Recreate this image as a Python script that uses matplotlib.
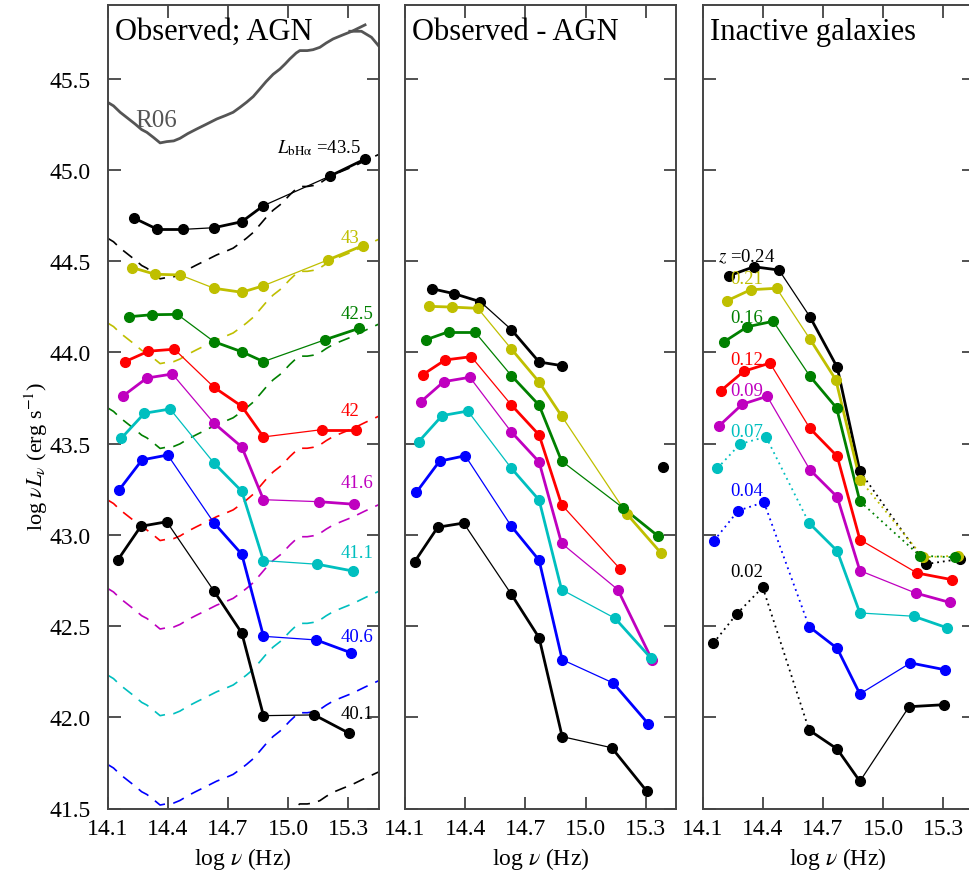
import numpy as np
import matplotlib
matplotlib.use("Agg")
import matplotlib.pyplot as plt

plt.rcParams['font.family'] = ['Liberation Serif', 'DejaVu Serif']
plt.rcParams['mathtext.fontset'] = 'stix'

# ---------------- data ----------------
colors = ['k', 'y', 'g', 'r', 'm', 'c', 'b', 'k']

# Panel 1: observed; AGN (binned by L_bHalpha)
obs_labels = ['43', '42.5', '42', '41.6', '41.1', '40.6', '40.1']
obs_label_y = [44.633, 44.215, 43.681, 43.285, 42.905, 42.442, 42.022]
obs_nu = [
    [14.234, 14.349, 14.478, 14.631, 14.769, 14.877, 15.206, 15.384],
    [14.224, 14.337, 14.461, 14.631, 14.769, 14.877, 15.197, 15.372],
    [14.207, 14.320, 14.448, 14.631, 14.769, 14.877, 15.184, 15.355],
    [14.188, 14.304, 14.433, 14.631, 14.769, 14.877, 15.168, 15.339],
    [14.179, 14.296, 14.423, 14.631, 14.769, 14.877, 15.154, 15.328],
    [14.169, 14.284, 14.412, 14.631, 14.769, 14.877, 15.146, 15.322],
    [14.159, 14.272, 14.400, 14.631, 14.769, 14.877, 15.140, 15.312],
    [14.151, 14.266, 14.395, 14.631, 14.769, 14.877, 15.130, 15.301],
]
obs_L = [
    [44.736, 44.675, 44.675, 44.684, 44.717, 44.805, 44.966, 45.061],
    [44.465, 44.429, 44.425, 44.352, 44.330, 44.366, 44.507, 44.586],
    [44.196, 44.207, 44.209, 44.059, 44.004, 43.950, 44.070, 44.133],
    [43.950, 44.007, 44.018, 43.809, 43.705, 43.537, 43.577, 43.577],
    [43.763, 43.860, 43.882, 43.612, 43.482, 43.193, 43.182, 43.168],
    [43.530, 43.667, 43.690, 43.393, 43.239, 42.859, 42.839, 42.802],
    [43.248, 43.411, 43.438, 43.065, 42.894, 42.444, 42.424, 42.354],
    [42.862, 43.047, 43.072, 42.691, 42.462, 42.009, 42.013, 41.914],
]

# R06 quasar template (grey line) and offsets of the dashed scaled copies
r06_nu = [14.100, 14.130, 14.163, 14.200, 14.237, 14.270, 14.296, 14.330, 14.362,
          14.395, 14.430, 14.461, 14.500, 14.544, 14.590, 14.644, 14.690, 14.726,
          14.760, 14.793, 14.826, 14.859, 14.890, 14.925, 14.959, 14.985, 15.008,
          15.040, 15.058, 15.095, 15.124, 15.158, 15.190, 15.224, 15.270, 15.320,
          15.383]
r06_L = [45.372, 45.352, 45.317, 45.285, 45.253, 45.222, 45.207, 45.178, 45.149,
         45.156, 45.160, 45.174, 45.200, 45.225, 45.250, 45.280, 45.300, 45.317,
         45.344, 45.372, 45.403, 45.445, 45.485, 45.525, 45.554, 45.582, 45.609,
         45.642, 45.655, 45.655, 45.660, 45.673, 45.697, 45.719, 45.740, 45.762,
         45.796]
r06_tail_nu = [15.307, 15.365, 15.415, 15.450]
r06_tail_L = [45.761, 45.761, 45.728, 45.682]
tmpl_end_nu = [15.450]
tmpl_end_L = [45.830]
dash_offsets = [0.745, 1.21, 1.675, 2.18, 2.665, 3.14, 3.63, 4.13]

# Panel 2: observed minus AGN
host_nu = [
    [14.233, 14.346, 14.476, 14.630, 14.768, 14.880, np.nan, 15.385],
    [14.220, 14.333, 14.463, 14.630, 14.768, 14.880, 15.205, 15.375],
    [14.205, 14.318, 14.447, 14.630, 14.768, 14.880, 15.185, 15.360],
    [14.188, 14.300, 14.430, 14.630, 14.768, 14.880, 15.170, np.nan],
    [14.178, 14.293, 14.423, 14.630, 14.768, 14.880, 15.160, 15.330],
    [14.168, 14.285, 14.413, 14.630, 14.768, 14.880, 15.146, 15.323],
    [14.157, 14.272, 14.400, 14.630, 14.768, 14.883, 15.137, 15.313],
    [14.148, 14.263, 14.392, 14.630, 14.768, 14.883, 15.130, 15.305],
]
host_L = [
    [44.350, 44.322, 44.278, 44.125, 43.948, 43.928, np.nan, 43.374],
    [44.253, 44.249, 44.242, 44.019, 43.838, 43.652, 43.115, 42.901],
    [44.070, 44.114, 44.114, 43.873, 43.711, 43.405, 43.149, 42.994],
    [43.878, 43.959, 43.977, 43.712, 43.548, 43.166, 42.815, np.nan],
    [43.729, 43.840, 43.864, 43.564, 43.400, 42.954, 42.700, 42.316],
    [43.511, 43.654, 43.679, 43.365, 43.191, 42.700, 42.543, 42.327],
    [43.234, 43.404, 43.434, 43.047, 42.861, 42.316, 42.188, 41.963],
    [42.853, 43.042, 43.065, 42.674, 42.436, 41.894, 41.833, 41.594],
]

# Panel 3: inactive galaxies (binned by redshift)
z_labels = ['0.21', '0.16', '0.12', '0.09', '0.07', '0.04', '0.02']
z_label_y = [44.407, 44.193, 43.964, 43.791, 43.568, 43.242, 42.798]
inact_nu = [
    [14.233, 14.356, 14.481, 14.635, 14.771, 14.884, 15.212, 15.385],
    [14.223, 14.340, 14.469, 14.635, 14.764, 14.884, 15.199, 15.373],
    [14.208, 14.323, 14.452, 14.635, 14.768, 14.884, 15.182, 15.356],
    [14.192, 14.306, 14.436, 14.635, 14.771, 14.884, 15.169, 15.345],
    [14.184, 14.298, 14.422, 14.635, 14.771, 14.884, 15.162, 15.331],
    [14.174, 14.287, 14.416, 14.631, 14.771, 14.884, 15.152, 15.320],
    [14.157, 14.278, 14.406, 14.631, 14.771, 14.884, 15.136, 15.306],
    [14.154, 14.270, 14.400, 14.631, 14.771, 14.884, 15.129, 15.302],
]
inact_L = [
    [44.421, 44.470, 44.452, 44.196, 43.919, 43.349, 42.840, 42.868],
    [44.284, 44.344, 44.352, 44.074, 43.851, 43.303, 42.877, 42.886],
    [44.059, 44.141, 44.171, 43.870, 43.696, 43.184, 42.886, 42.877],
    [43.791, 43.897, 43.942, 43.584, 43.431, 42.974, 42.791, 42.754],
    [43.599, 43.716, 43.760, 43.357, 43.208, 42.804, 42.681, 42.630],
    [43.365, 43.498, 43.538, 43.065, 42.912, 42.572, 42.554, 42.490],
    [42.968, 43.133, 43.179, 42.497, 42.378, 42.128, 42.298, 42.261],
    [42.406, 42.566, 42.713, 41.930, 41.826, 41.649, 42.058, 42.069],
]
inact_ir_dotted = [False, False, False, False, False, True, True, True]
inact_uv_dotted = [True, True, True, False, False, False, False, False]

xticks = [14.1, 14.4, 14.7, 15.0, 15.3]
yticks = [41.5, 42.0, 42.5, 43.0, 43.5, 44.0, 44.5, 45.0, 45.5]

# ---------------- drawing ----------------
THICK, THIN, DOT = 2.0, 0.9, 1.3
DOTSTYLE = (0, (1.0, 2.2))


def draw_series(ax, x, y, color, ir_dot=False, uv_dot=False):
    x = np.asarray(x, float)
    y = np.asarray(y, float)
    segs = [((0, 1), 'thick', ir_dot), ((1, 2), 'thick', ir_dot),
            ((2, 3), 'thin', ir_dot),
            ((3, 4), 'thick', False), ((4, 5), 'thick', False),
            ((5, 6), 'thin', uv_dot), ((6, 7), 'thick', uv_dot)]
    for (i, j), w, dot in segs:
        if np.isnan(x[i]) or np.isnan(x[j]):
            continue
        if dot:
            ax.plot([x[i], x[j]], [y[i], y[j]], color=color, lw=DOT,
                    linestyle=DOTSTYLE, zorder=2)
        else:
            ax.plot([x[i], x[j]], [y[i], y[j]], color=color,
                    lw=THICK if w == 'thick' else THIN, zorder=2,
                    solid_capstyle='round')
    ax.plot(x, y, 'o', color=color, mec=color, ms=7, zorder=3)


fig = plt.figure(figsize=(9.69, 8.78), dpi=100)
W = 271 / 969
H = 803.5 / 878
B = 1 - 809.5 / 878
lefts = [107.5 / 969, 405 / 969, 702.5 / 969]
axes = [fig.add_axes([l, B, W, H]) for l in lefts]

for k, ax in enumerate(axes):
    ax.set_xlim(14.1, 15.45)
    ax.set_ylim(41.5, 45.905)
    ax.set_xticks(xticks)
    ax.set_xticklabels(['%.1f' % t for t in xticks])
    ax.set_yticks(yticks)
    if k == 0:
        ax.set_yticklabels(['%.1f' % t for t in yticks])
    else:
        ax.set_yticklabels([])
    ax.tick_params(direction='in', length=9, width=1.2, top=True, right=True,
                   labelsize=17, color='#333333', pad=7)
    ax.tick_params(axis='y', pad=12)
    for s in ax.spines.values():
        s.set_color('#444444')
        s.set_linewidth(1.4)
    ax.set_xlabel(r'log $\nu$ (Hz)', fontsize=17, labelpad=4)

# Panel 1
ax = axes[0]
ax.plot(r06_nu, r06_L, color='#555555', lw=2.0, zorder=2)
ax.plot(r06_tail_nu, r06_tail_L, color='#555555', lw=2.0, zorder=2)
tx = np.array(r06_nu + tmpl_end_nu)
ty = np.array(r06_L + tmpl_end_L)
for c, off in zip(colors, dash_offsets):
    ax.plot(tx, ty - off, color=c, lw=1.2, linestyle=(0, (7, 5)), zorder=1)
for c, xs, ys in zip(colors, obs_nu, obs_L):
    draw_series(ax, xs, ys, c)
ax.text(14.237, 45.242, 'R06', color='#555555', fontsize=18, va='baseline', ha='left')
ax.text(15.365, 45.127, r'$L_{\rm bH\alpha}$ =43.5', color='k', fontsize=13.5,
        ha='right', va='center')
for c, lab, ly in zip(colors[1:], obs_labels, obs_label_y):
    ax.text(15.261, ly, lab, color=c, fontsize=13.5, ha='left', va='center')
ax.text(0.028, 0.958, 'Observed; AGN', transform=ax.transAxes, fontsize=22,
        va='baseline', ha='left')

# Panel 2
ax = axes[1]
for c, xs, ys in zip(colors, host_nu, host_L):
    draw_series(ax, xs, ys, c)
ax.text(0.025, 0.958, 'Observed - AGN', transform=ax.transAxes, fontsize=22,
        va='baseline', ha='left')

# Panel 3
ax = axes[2]
for c, xs, ys, ird, uvd in zip(colors, inact_nu, inact_L, inact_ir_dotted, inact_uv_dotted):
    draw_series(ax, xs, ys, c, ir_dot=ird, uv_dot=uvd)
ax.text(14.177, 44.531, r'$z$ =0.24', color='k', fontsize=13.5, ha='left', va='center')
for c, lab, ly in zip(colors[1:], z_labels, z_label_y):
    ax.text(14.240, ly, lab, color=c, fontsize=13.5, ha='left', va='center')
ax.text(0.028, 0.958, 'Inactive galaxies', transform=ax.transAxes, fontsize=22,
        va='baseline', ha='left')

fig.text(36 / 969, 1 - 456 / 878, r'log $\nu L_\nu$ (erg s$^{-1}$)', rotation=90,
         va='center', ha='center', fontsize=16)

fig.savefig('out.png', dpi=100)
